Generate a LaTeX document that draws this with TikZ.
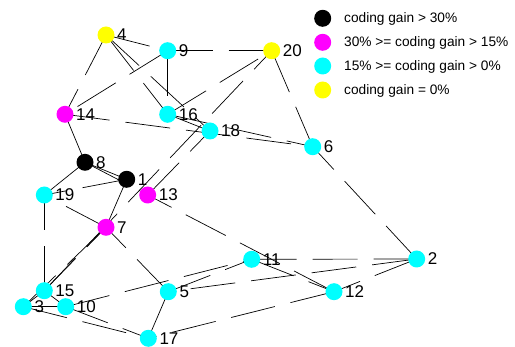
\documentclass[tikz,border=0pt]{standalone}
\usepackage{fontspec}
\setmainfont{Liberation Sans}
\definecolor{gainblack}{RGB}{0,0,0}
\definecolor{gainmagenta}{RGB}{255,0,255}
\definecolor{gaincyan}{RGB}{0,255,255}
\definecolor{gainyellow}{RGB}{255,255,0}
\pgfdeclarelayer{bg}
\pgfsetlayers{bg,main}
\begin{document}
\begin{tikzpicture}[x=1pt,y=-1pt,
  vtx/.style={circle,minimum size=17pt,inner sep=0pt,draw=none},
  gainA/.style={vtx,fill=gainblack},
  gainB/.style={vtx,fill=gainmagenta},
  gainC/.style={vtx,fill=gaincyan},
  gainD/.style={vtx,fill=gainyellow},
  lbl/.style={anchor=base west,inner sep=0pt,font=\fontsize{17}{17}\selectfont},
  keytext/.style={anchor=base west,inner sep=0pt,font=\fontsize{13.7}{14}\selectfont},
  link/.style={line width=0.7pt,dash pattern=on 45pt off 16pt}]
\useasboundingbox (0,0) rectangle (515,347);

% nodes
\node[gainD] (n4)  at (106,35) {};
\node[gainC] (n9)  at (167.7,50.7) {};
\node[gainD] (n20) at (271.7,50.7) {};
\node[gainB] (n14) at (65,114.3) {};
\node[gainC] (n16) at (167.7,114.3) {};
\node[gainC] (n18) at (210,131) {};
\node[gainC] (n6)  at (312.7,146.7) {};
\node[gainA] (n8)  at (85,162.3) {};
\node[gainA] (n1)  at (126.7,179.3) {};
\node[gainC] (n19) at (44.3,195) {};
\node[gainB] (n13) at (147.7,195) {};
\node[gainB] (n7)  at (106,227.3) {};
\node[gainC] (n11) at (251.7,259.3) {};
\node[gainC] (n2)  at (416.7,259) {};
\node[gainC] (n12) at (334,291.7) {};
\node[gainC] (n15) at (44.3,290.7) {};
\node[gainC] (n5)  at (168.3,291.7) {};
\node[gainC] (n3)  at (23.3,306.7) {};
\node[gainC] (n10) at (65.7,306.7) {};
\node[gainC] (n17) at (148.3,338.3) {};

% node numbers
\foreach \v in {4,9,20,14,16,18,6,8,1,19,13,7,11,2,12,15,5,3,10,17}
  \node[lbl] (t\v) at ([xshift=11pt,yshift=-5.8pt]n\v.center) {\v};

% links, drawn below the nodes
\begin{pgfonlayer}{bg}
\foreach \a/\b in {4/9,4/14,4/16,4/18,9/14,9/16,9/20,16/20,16/18,16/6,14/6,
  20/6,2/6,14/8,8/1,8/13,8/19,1/19,1/7,7/19,13/18,15/20,15/7,3/7,15/19,
  15/10,3/10,3/15,3/17,10/17,5/7,5/17,10/11,5/11,2/5,11/2,2/12,12/17,
  12/13,11/12}
  \draw[link] (n\a.center) -- (n\b.center);
\end{pgfonlayer}

% legend
\node[gainA] (k1) at (322.7,18.3) {};
\node[gainB] (k2) at (322.7,42.3) {};
\node[gainC] (k3) at (322.7,66) {};
\node[gainD] (k4) at (322.7,90) {};
\node[keytext] (kt1) at (344,23) {coding gain > 30\%};
\node[keytext] (kt2) at (344,47) {30\% >= coding gain > 15\%};
\node[keytext] (kt3) at (344,70.7) {15\% >= coding gain > 0\%};
\node[keytext] (kt4) at (344,94.7) {coding gain = 0\%};
\end{tikzpicture}
\end{document}
